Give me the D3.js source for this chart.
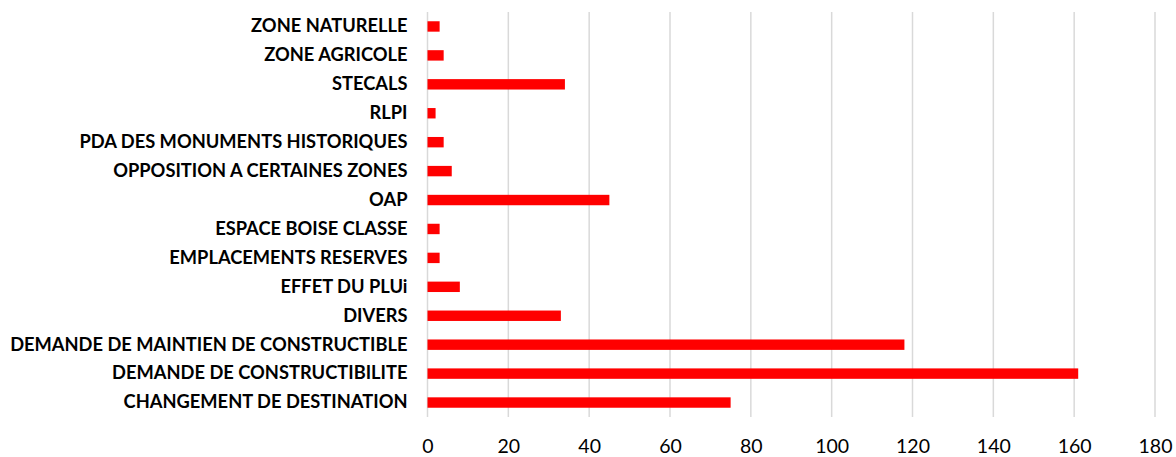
<!DOCTYPE html>
<html>
<head>
<meta charset="utf-8">
<script src="https://cdn.jsdelivr.net/npm/d3@7"></script>
<style>
  html, body { margin: 0; padding: 0; background: #fff; }
  svg { display: block; }
</style>
</head>
<body>
<svg id="chart" width="1176" height="457"></svg>
<script>
// Categories, listed top to bottom
const categories = [
  "ZONE NATURELLE",
  "ZONE AGRICOLE",
  "STECALS",
  "RLPI",
  "PDA DES MONUMENTS HISTORIQUES",
  "OPPOSITION A CERTAINES ZONES",
  "OAP",
  "ESPACE BOISE CLASSE",
  "EMPLACEMENTS RESERVES",
  "EFFET DU PLUi",
  "DIVERS",
  "DEMANDE DE MAINTIEN DE CONSTRUCTIBLE",
  "DEMANDE DE CONSTRUCTIBILITE",
  "CHANGEMENT DE DESTINATION"
];
const values = [3, 4, 34, 2, 4, 6, 45, 3, 3, 8, 33, 118, 161, 75];
const xTicks = [0, 20, 40, 60, 80, 100, 120, 140, 160, 180];

const svg = d3.select("#chart");
const margin = { top: 12, right: 21, bottom: 40, left: 427.5 };
const W = 1176, H = 457;
const innerW = W - margin.left - margin.right;
const innerH = H - margin.top - margin.bottom;

const x = d3.scaleLinear().domain([0, 180]).range([0, innerW]);
const y = d3.scaleBand().domain(categories).range([0, innerH]).paddingInner(0.64).paddingOuter(0.32);

const g = svg.append("g").attr("transform", `translate(${margin.left},${margin.top})`);

// vertical gridlines
g.append("g")
  .selectAll("line")
  .data(xTicks)
  .join("line")
  .attr("x1", d => x(d)).attr("x2", d => x(d))
  .attr("y1", 0).attr("y2", innerH)
  .attr("stroke", "#d9d9d9")
  .attr("stroke-width", 1.5);

// bars
g.append("g")
  .selectAll("rect")
  .data(categories.map((c, i) => ({ c, v: values[i] })))
  .join("rect")
  .attr("x", x(0))
  .attr("y", d => y(d.c))
  .attr("width", d => x(d.v) - x(0))
  .attr("height", y.bandwidth())
  .attr("fill", "#ff0000");

// category axis (labels only)
const yAxis = g.append("g")
  .call(d3.axisLeft(y).tickSize(0).tickPadding(20));
yAxis.select(".domain").remove();
yAxis.selectAll("text")
  .attr("font-family", "Lato, 'Open Sans', sans-serif")
  .attr("font-weight", "bold")
  .attr("font-size", 18.3)
  .attr("fill", "#000");

// value axis
const xAxis = g.append("g")
  .attr("transform", `translate(0,${innerH})`)
  .call(d3.axisBottom(x).tickValues(xTicks).tickSize(0).tickPadding(22));
xAxis.select(".domain").remove();
xAxis.selectAll("text")
  .attr("font-family", "Lato, 'Open Sans', sans-serif")
  .attr("font-size", 19.5)
  .attr("fill", "#000");
</script>
</body>
</html>
